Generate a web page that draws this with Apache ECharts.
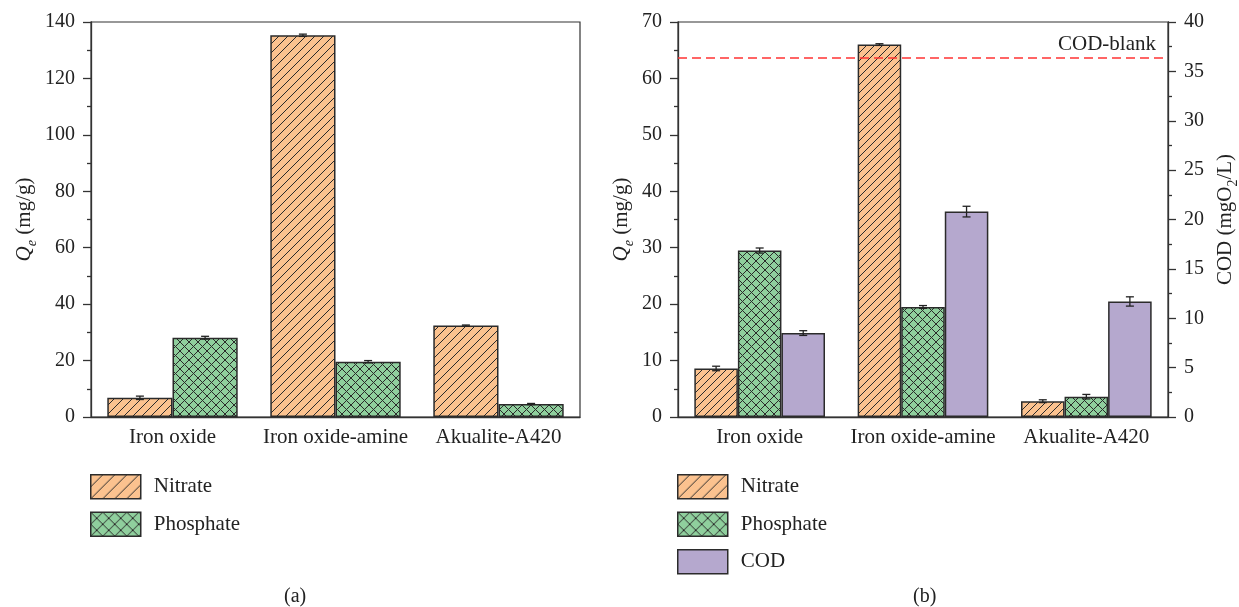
<!DOCTYPE html>
<html>
<head>
<meta charset="utf-8">
<title>Adsorption capacity and COD</title>
<script src="https://cdn.jsdelivr.net/npm/echarts@6/dist/echarts.min.js"></script>
<style>
  html, body { margin: 0; padding: 0; background: #fff; }
  #chart { width: 1239px; height: 607px; }
</style>
</head>
<body>
<div id="chart"></div>
<script>
// Sorbents compared in both panels
const categories = ['Iron oxide', 'Iron oxide-amine', 'Akualite-A420'];

// Panel (a): adsorption capacity Qe (mg/g)
const nitrateA = [6.8, 135.3, 32.4];
const nitrateAErr = [0.6, 0.4, 0.2];
const phosphateA = [28.1, 19.6, 4.6];
const phosphateAErr = [0.5, 0.4, 0.2];

// Panel (b): adsorption capacity Qe (mg/g) and residual COD (mgO2/L)
const nitrateB = [8.6, 66.0, 2.8];
const nitrateBErr = [0.4, 0.15, 0.25];
const phosphateB = [29.5, 19.5, 3.6];
const phosphateBErr = [0.45, 0.25, 0.4];
const codB = [8.5, 20.8, 11.7];
const codBErr = [0.24, 0.54, 0.47];
const codBlank = 36.35;

// Axis ranges and tick steps
const qeMaxA = 140, qeStepA = 20;
const qeMaxB = 70, qeStepB = 10;
const codMax = 40, codStep = 5;

const FONT = 'Liberation Serif';
const INK = '#222';
const NITRATE_FILL = '#fbc28f';
const PHOSPHATE_FILL = '#8fcf9d';
const COD_FILL = '#b5a8ce';

// Tileable hatch fills: "/" lines, optionally crossed with "\" lines
function hatch(bg, step, cross) {
  const c = document.createElement('canvas');
  c.width = c.height = step;
  const g = c.getContext('2d');
  g.fillStyle = bg;
  g.fillRect(0, 0, step, step);
  g.strokeStyle = '#2a2a2a';
  g.lineWidth = 1;
  g.beginPath();
  g.moveTo(-step, 2 * step); g.lineTo(2 * step, -step);
  g.moveTo(-step, step); g.lineTo(step, -step);
  g.moveTo(0, 2 * step); g.lineTo(2 * step, 0);
  if (cross) {
    g.moveTo(-step, -step); g.lineTo(2 * step, 2 * step);
    g.moveTo(0, -step); g.lineTo(2 * step, step);
    g.moveTo(-step, 0); g.lineTo(step, 2 * step);
  }
  g.stroke();
  return { image: c, repeat: 'repeat' };
}

const nitrateFillA = hatch(NITRATE_FILL, 9, false);
const phosphateFillA = hatch(PHOSPHATE_FILL, 9, true);
const nitrateFillB = hatch(NITRATE_FILL, 8, false);
const phosphateFillB = hatch(PHOSPHATE_FILL, 9, true);
const nitrateFillLegend = hatch(NITRATE_FILL, 12, false);
const phosphateFillLegend = hatch(PHOSPHATE_FILL, 12, true);

function errData(values, errs) {
  return values.map((v, i) => [i, v, errs[i]]);
}

// Error bar drawn at a fraction of the category band away from its centre
function errRender(offsetFrac) {
  return function (params, api) {
    const idx = api.value(0), v = api.value(1), e = api.value(2);
    const band = api.size([1, 0])[0];
    const top = api.coord([idx, v + e]);
    const bot = api.coord([idx, v - e]);
    const x = top[0] + offsetFrac * band;
    const cap = 4;
    const st = { stroke: INK, lineWidth: 1.3 };
    return {
      type: 'group',
      children: [
        { type: 'line', shape: { x1: x, y1: top[1], x2: x, y2: bot[1] }, style: st },
        { type: 'line', shape: { x1: x - cap, y1: top[1], x2: x + cap, y2: top[1] }, style: st },
        { type: 'line', shape: { x1: x - cap, y1: bot[1], x2: x + cap, y2: bot[1] }, style: st }
      ]
    };
  };
}

const axisLineStyle = { color: '#333', width: 1.3 };

function catAxis(gridIndex) {
  return {
    type: 'category', gridIndex, data: categories,
    axisLine: { lineStyle: axisLineStyle },
    axisTick: { alignWithLabel: true, length: 8, lineStyle: axisLineStyle },
    axisLabel: { color: INK, fontFamily: FONT, fontSize: 21, margin: 10, interval: 0, hideOverlap: false }
  };
}
function boundaryAxis(gridIndex) {
  return {
    type: 'category', gridIndex, data: categories, position: 'bottom',
    axisLine: { show: false },
    axisTick: { length: 3, interval: 0, lineStyle: axisLineStyle },
    axisLabel: { show: false }
  };
}
function valAxis(gridIndex, max, step, position, name, nameGap, rich) {
  return {
    type: 'value', gridIndex, min: 0, max, interval: step, position,
    name, nameLocation: 'middle', nameGap, nameRotate: 90,
    nameTextStyle: { color: INK, fontFamily: FONT, fontSize: 21, rich },
    axisLine: { show: true, lineStyle: axisLineStyle },
    axisTick: { show: true, length: 8, lineStyle: axisLineStyle },
    minorTick: { show: true, splitNumber: 2, length: 4, lineStyle: axisLineStyle },
    splitLine: { show: false },
    axisLabel: { color: INK, fontFamily: FONT, fontSize: 20, margin: 16 }
  };
}

const baseRich = {
  i: { fontFamily: FONT, fontSize: 21, fontStyle: 'italic', color: INK },
  sub: { fontFamily: FONT, fontSize: 14, fontStyle: 'italic', color: INK, verticalAlign: 'bottom', lineHeight: 30 },
  subn: { fontFamily: FONT, fontSize: 14, color: INK, verticalAlign: 'bottom', lineHeight: 30 },
  t: { fontFamily: FONT, fontSize: 21, color: INK }
};
const qeName = '{i|Q}{sub|e}{t| (mg/g)}';
const codName = '{t|COD (mgO}{subn|2}{t|/L)}';

const barBorder = { borderColor: '#2b2b2b', borderWidth: 1.5 };
const legendBorder = { borderColor: '#2b2b2b', borderWidth: 1.5 };

const chart = echarts.init(document.getElementById('chart'), null, { renderer: 'canvas' });

chart.setOption({
  animation: false,
  backgroundColor: '#fff',
  grid: [
    { left: 91, top: 22, width: 489, height: 395, show: true, borderColor: '#333', borderWidth: 1.2,
      containLabel: false, outerBoundsMode: 'none' },
    { left: 678, top: 22, width: 490, height: 395, show: true, borderColor: '#333', borderWidth: 1.2,
      containLabel: false, outerBoundsMode: 'none' }
  ],
  xAxis: [catAxis(0), boundaryAxis(0), catAxis(1), boundaryAxis(1)],
  yAxis: [
    valAxis(0, qeMaxA, qeStepA, 'left', qeName, 52, baseRich),
    valAxis(1, qeMaxB, qeStepB, 'left', qeName, 42, baseRich),
    valAxis(1, codMax, codStep, 'right', codName, 42, baseRich)
  ],
  legend: [
    {
      orient: 'vertical', left: 85, top: 469, itemWidth: 50, itemHeight: 24, itemGap: 12,
      icon: 'rect', selectedMode: false,
      textStyle: { color: INK, fontFamily: FONT, fontSize: 21, padding: [0, 0, 0, 8] },
      data: [
        { name: 'Nitrate', itemStyle: Object.assign({ color: nitrateFillLegend }, legendBorder) },
        { name: 'Phosphate', itemStyle: Object.assign({ color: phosphateFillLegend }, legendBorder) }
      ]
    },
    {
      orient: 'vertical', left: 672, top: 469, itemWidth: 50, itemHeight: 24, itemGap: 12,
      icon: 'rect', selectedMode: false,
      textStyle: { color: INK, fontFamily: FONT, fontSize: 21, padding: [0, 0, 0, 8] },
      data: [
        { name: 'Nitrate', itemStyle: Object.assign({ color: nitrateFillLegend }, legendBorder) },
        { name: 'Phosphate', itemStyle: Object.assign({ color: phosphateFillLegend }, legendBorder) },
        { name: 'COD', itemStyle: Object.assign({ color: COD_FILL }, legendBorder) }
      ]
    }
  ],
  graphic: [
    { type: 'text', left: 284, top: 587, style: { text: '(a)', fontFamily: FONT, fontSize: 20, fill: INK } },
    { type: 'text', left: 913, top: 587, style: { text: '(b)', fontFamily: FONT, fontSize: 20, fill: INK } }
  ],
  series: [
    // Panel (a)
    { name: 'Nitrate', type: 'bar', xAxisIndex: 0, yAxisIndex: 0, data: nitrateA,
      barGap: '0%', barCategoryGap: '20%', itemStyle: Object.assign({ color: nitrateFillA }, barBorder) },
    { name: 'Phosphate', type: 'bar', xAxisIndex: 0, yAxisIndex: 0, data: phosphateA,
      barGap: '0%', barCategoryGap: '20%', itemStyle: Object.assign({ color: phosphateFillA }, barBorder) },
    { type: 'custom', xAxisIndex: 0, yAxisIndex: 0, z: 5, renderItem: errRender(-0.2),
      encode: { x: 0, y: 1 }, data: errData(nitrateA, nitrateAErr) },
    { type: 'custom', xAxisIndex: 0, yAxisIndex: 0, z: 5, renderItem: errRender(0.2),
      encode: { x: 0, y: 1 }, data: errData(phosphateA, phosphateAErr) },

    // Panel (b)
    { name: 'Nitrate', type: 'bar', xAxisIndex: 2, yAxisIndex: 1, data: nitrateB,
      barGap: '0%', barCategoryGap: '20%', itemStyle: Object.assign({ color: nitrateFillB }, barBorder) },
    { name: 'Phosphate', type: 'bar', xAxisIndex: 2, yAxisIndex: 1, data: phosphateB,
      barGap: '0%', barCategoryGap: '20%', itemStyle: Object.assign({ color: phosphateFillB }, barBorder) },
    { name: 'COD', type: 'bar', xAxisIndex: 2, yAxisIndex: 2, data: codB,
      barGap: '0%', barCategoryGap: '20%', itemStyle: Object.assign({ color: COD_FILL }, barBorder),
      markLine: {
        silent: true, symbol: 'none',
        lineStyle: { color: '#f33', type: [9, 5], width: 1.5 },
        label: { show: true, position: 'insideEndTop', formatter: 'COD-blank', color: INK,
                 fontFamily: FONT, fontSize: 21, distance: [12, 3] },
        data: [{ yAxis: codBlank }]
      } },
    { type: 'custom', xAxisIndex: 2, yAxisIndex: 1, z: 5, renderItem: errRender(-0.8 / 3),
      encode: { x: 0, y: 1 }, data: errData(nitrateB, nitrateBErr) },
    { type: 'custom', xAxisIndex: 2, yAxisIndex: 1, z: 5, renderItem: errRender(0),
      encode: { x: 0, y: 1 }, data: errData(phosphateB, phosphateBErr) },
    { type: 'custom', xAxisIndex: 2, yAxisIndex: 2, z: 5, renderItem: errRender(0.8 / 3),
      encode: { x: 0, y: 1 }, data: errData(codB, codBErr) }
  ]
});
</script>
</body>
</html>
